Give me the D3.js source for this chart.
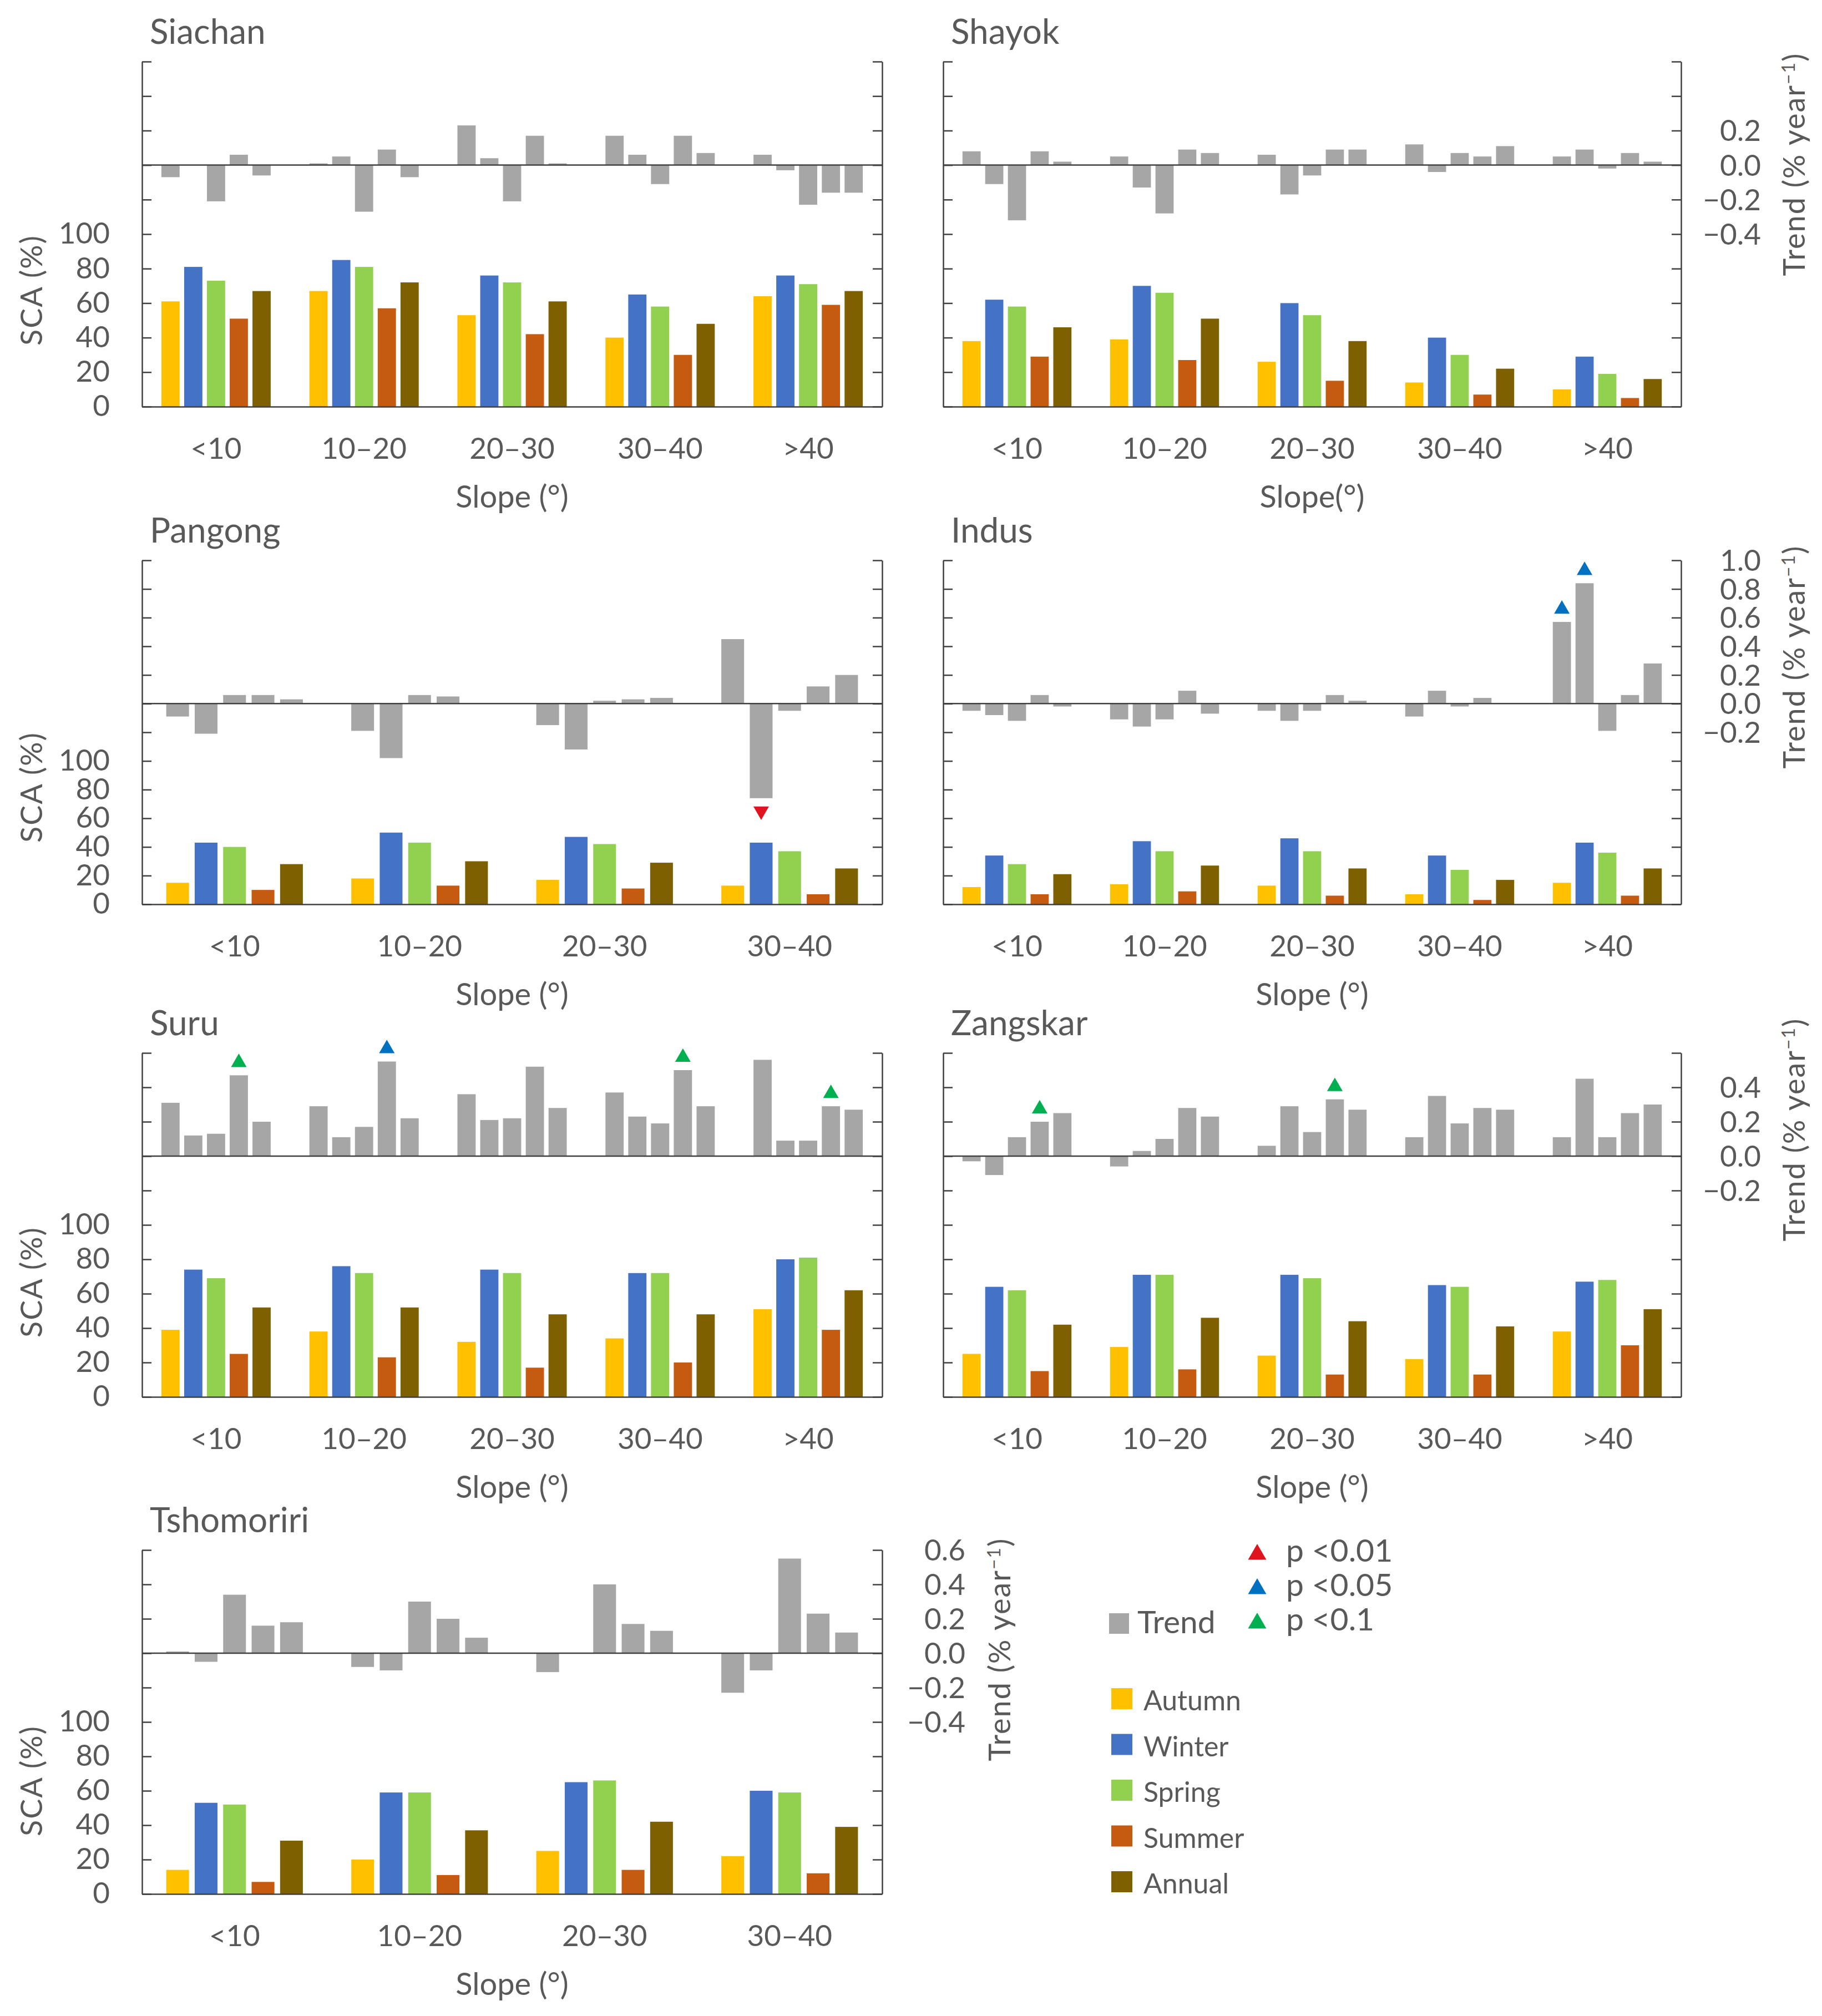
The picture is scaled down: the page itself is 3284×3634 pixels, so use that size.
<!DOCTYPE html>
<html>
<head>
<meta charset="utf-8">
<script src="https://cdn.jsdelivr.net/npm/d3@7"></script>
<style>
  body { margin: 0; background: #fff; }
  svg text { font-family: Lato, 'Open Sans', sans-serif; fill: #595959; }
</style>
</head>
<body>
<div id="chart"></div>
<script>
const seasons = ['Autumn', 'Winter', 'Spring', 'Summer', 'Annual'];
const slopes5 = ['<10', '10–20', '20–30', '30–40', '>40'];
const slopes4 = ['<10', '10–20', '20–30', '30–40'];

// SCA (%) per slope class, in season order
const siachanSca = [[61, 81, 73, 51, 67], [67, 85, 81, 57, 72], [53, 76, 72, 42, 61], [40, 65, 58, 30, 48], [64, 76, 71, 59, 67]];
const shayokSca = [[38, 62, 58, 29, 46], [39, 70, 66, 27, 51], [26, 60, 53, 15, 38], [14, 40, 30, 7, 22], [10, 29, 19, 5, 16]];
const pangongSca = [[15, 43, 40, 10, 28], [18, 50, 43, 13, 30], [17, 47, 42, 11, 29], [13, 43, 37, 7, 25]];
const indusSca = [[12, 34, 28, 7, 21], [14, 44, 37, 9, 27], [13, 46, 37, 6, 25], [7, 34, 24, 3, 17], [15, 43, 36, 6, 25]];
const suruSca = [[39, 74, 69, 25, 52], [38, 76, 72, 23, 52], [32, 74, 72, 17, 48], [34, 72, 72, 20, 48], [51, 80, 81, 39, 62]];
const zangskarSca = [[25, 64, 62, 15, 42], [29, 71, 71, 16, 46], [24, 71, 69, 13, 44], [22, 65, 64, 13, 41], [38, 67, 68, 30, 51]];
const tshomoririSca = [[14, 53, 52, 7, 31], [20, 59, 59, 11, 37], [25, 65, 66, 14, 42], [22, 60, 59, 12, 39]];

// trend (% year-1) per slope class, in season order
const siachanTrend = [[-0.07, 0, -0.21, 0.06, -0.06], [0.01, 0.05, -0.27, 0.09, -0.07], [0.23, 0.04, -0.21, 0.17, 0.01], [0.17, 0.06, -0.11, 0.17, 0.07], [0.06, -0.03, -0.23, -0.16, -0.16]];
const shayokTrend = [[0.08, -0.11, -0.32, 0.08, 0.02], [0.05, -0.13, -0.28, 0.09, 0.07], [0.06, -0.17, -0.06, 0.09, 0.09], [0.12, -0.04, 0.07, 0.05, 0.11], [0.05, 0.09, -0.02, 0.07, 0.02]];
const pangongTrend = [[-0.09, -0.21, 0.06, 0.06, 0.03], [-0.19, -0.38, 0.06, 0.05, 0], [-0.15, -0.32, 0.02, 0.03, 0.04], [0.45, -0.66, -0.05, 0.12, 0.2]];
const indusTrend = [[-0.05, -0.08, -0.12, 0.06, -0.02], [-0.11, -0.16, -0.11, 0.09, -0.07], [-0.05, -0.12, -0.05, 0.06, 0.02], [-0.09, 0.09, -0.02, 0.04, 0], [0.57, 0.84, -0.19, 0.06, 0.28]];
const suruTrend = [[0.31, 0.12, 0.13, 0.47, 0.2], [0.29, 0.11, 0.17, 0.55, 0.22], [0.36, 0.21, 0.22, 0.52, 0.28], [0.37, 0.23, 0.19, 0.5, 0.29], [0.56, 0.09, 0.09, 0.29, 0.27]];
const zangskarTrend = [[-0.03, -0.11, 0.11, 0.2, 0.25], [-0.06, 0.03, 0.1, 0.28, 0.23], [0.06, 0.29, 0.14, 0.33, 0.27], [0.11, 0.35, 0.19, 0.28, 0.27], [0.11, 0.45, 0.11, 0.25, 0.3]];
const tshomoririTrend = [[0.01, -0.05, 0.34, 0.16, 0.18], [-0.08, -0.1, 0.3, 0.2, 0.09], [-0.11, 0, 0.4, 0.17, 0.13], [-0.23, -0.1, 0.55, 0.23, 0.12]];

// significant trends
const pangongSig = [{ slope: '30–40', season: 'Winter', p: 0.01 }];
const indusSig = [{ slope: '>40', season: 'Autumn', p: 0.05 }, { slope: '>40', season: 'Winter', p: 0.05 }];
const suruSig = [{ slope: '<10', season: 'Summer', p: 0.1 }, { slope: '10–20', season: 'Summer', p: 0.05 },
  { slope: '30–40', season: 'Summer', p: 0.1 }, { slope: '>40', season: 'Summer', p: 0.1 }];
const zangskarSig = [{ slope: '<10', season: 'Summer', p: 0.1 }, { slope: '20–30', season: 'Summer', p: 0.1 }];

const sigLevels = [0.01, 0.05, 0.1];
const sigNames = ['p <0.01', 'p <0.05', 'p <0.1'];

const seasonColor = d3.scaleOrdinal().domain(seasons).range(['#FFC000', '#4472C4', '#92D050', '#C55A11', '#7F6000']);
const sigColor = d3.scaleOrdinal().domain(sigLevels).range(['#E0141E', '#0070C0', '#00B050']);
const trendColor = '#A6A6A6';
const axisColor = '#404040';

const W = 3284, H = 3634;
const cols = [[256, 1590], [1700, 3030]];
const rows = [[111, 733], [1010, 1630], [1898, 2518], [2794, 3414]];

const panels = [
  { name: 'Siachan', cats: slopes5, sca: siachanSca, trend: siachanTrend, sig: [], yMax: 200, col: 0, row: 0, xTitle: 'Slope (°)', scaY: 523 },
  { name: 'Shayok', cats: slopes5, sca: shayokSca, trend: shayokTrend, sig: [], yMax: 200, col: 1, row: 0, xTitle: 'Slope(°)',
    right: [0.2, 0, -0.2, -0.4], rightX: 3174, trendPos: [3234, 296] },
  { name: 'Pangong', cats: slopes4, sca: pangongSca, trend: pangongTrend, sig: pangongSig, yMax: 240, col: 0, row: 1, xTitle: 'Slope (°)', scaY: 1419 },
  { name: 'Indus', cats: slopes5, sca: indusSca, trend: indusTrend, sig: indusSig, yMax: 240, col: 1, row: 1, xTitle: 'Slope (°)',
    right: [1, 0.8, 0.6, 0.4, 0.2, 0, -0.2], rightX: 3174, trendPos: [3234, 1184] },
  { name: 'Suru', cats: slopes5, sca: suruSca, trend: suruTrend, sig: suruSig, yMax: 200, col: 0, row: 2, xTitle: 'Slope (°)', scaY: 2311 },
  { name: 'Zangskar', cats: slopes5, sca: zangskarSca, trend: zangskarTrend, sig: zangskarSig, yMax: 200, col: 1, row: 2, xTitle: 'Slope (°)',
    right: [0.4, 0.2, 0, -0.2], rightX: 3174, trendPos: [3234, 2036] },
  { name: 'Tshomoriri', cats: slopes4, sca: tshomoririSca, trend: tshomoririTrend, sig: [], yMax: 200, col: 0, row: 3, xTitle: 'Slope (°)', scaY: 3210,
    right: [0.6, 0.4, 0.2, 0, -0.2, -0.4], rightX: 1740, trendPos: [1802, 2973] }
];

const svg = d3.select('#chart').append('svg')
  .attr('width', W)
  .attr('height', H)
  .style('background', '#fff');

const tri = d3.symbol().type(d3.symbolTriangle);

function drawPanel(p) {
  const [x0, x1] = cols[p.col];
  const [yt, yb] = rows[p.row];
  const g = svg.append('g');

  const x = d3.scaleBand().domain(p.cats).range([x0, x1]);
  const xs = d3.scaleBand().domain(seasons).range([0, x.bandwidth()])
    .paddingInner(0.2).paddingOuter(0.85);
  const y = d3.scaleLinear().domain([0, p.yMax]).range([yb, yt]);
  const yT = d3.scaleLinear().domain([-1.4, p.yMax / 100 - 1.4]).range([yb, yt]);

  const scaCells = [], trendCells = [];
  p.cats.forEach((c, i) => seasons.forEach((s, j) => {
    scaCells.push({ c, s, v: p.sca[i][j] });
    trendCells.push({ c, s, v: p.trend[i][j] });
  }));

  // trend bars (secondary axis)
  g.selectAll('.trend').data(trendCells).join('rect')
    .attr('x', d => x(d.c) + xs(d.s))
    .attr('width', xs.bandwidth())
    .attr('y', d => Math.min(yT(0), yT(d.v)))
    .attr('height', d => Math.abs(yT(d.v) - yT(0)))
    .attr('fill', trendColor);

  // SCA bars
  g.selectAll('.sca').data(scaCells).join('rect')
    .attr('x', d => x(d.c) + xs(d.s))
    .attr('width', xs.bandwidth())
    .attr('y', d => y(d.v))
    .attr('height', d => yb - y(d.v))
    .attr('fill', d => seasonColor(d.s));

  // significance markers
  const trendOf = d => p.trend[p.cats.indexOf(d.slope)][seasons.indexOf(d.season)];
  g.selectAll('.sig').data(p.sig).join('path')
    .attr('d', tri.size(340))
    .attr('fill', d => sigColor(d.p))
    .attr('transform', d => {
      const cx = x(d.slope) + xs(d.season) + xs.bandwidth() / 2;
      const v = trendOf(d);
      return v >= 0
        ? `translate(${cx},${yT(v) - 15 - 8})`
        : `translate(${cx},${yT(v) + 15 + 8}) rotate(180)`;
    });

  const ticks = d3.range(0, p.yMax + 1, 20);
  const showLeft = p.col === 0;

  // left axis (labels only in the left column)
  g.append('g')
    .attr('transform', `translate(${x0},0)`)
    .attr('color', axisColor)
    .call(d3.axisLeft(y).tickValues(ticks).tickSizeInner(-17).tickSizeOuter(0).tickPadding(58)
      .tickFormat(d => showLeft && d <= 100 ? d : ''))
    .attr('font-size', 53)
    .attr('font-family', null)
    .call(a => a.selectAll('text').filter(function () { return this.textContent === ''; }).remove())
    .call(a => a.selectAll('line, path').attr('stroke-width', 2.5));

  // right axis
  g.append('g')
    .attr('transform', `translate(${x1},0)`)
    .attr('color', axisColor)
    .call(d3.axisRight(yT).tickValues(ticks.map(v => (v - 140) / 100)).tickSizeInner(-17).tickSizeOuter(0).tickFormat(''))
    .call(a => a.selectAll('text').remove())
    .call(a => a.selectAll('line, path').attr('stroke-width', 2.5));

  if (p.right) {
    g.selectAll('.rlab').data(p.right).join('text')
      .attr('x', p.rightX)
      .attr('y', d => yT(d))
      .attr('dy', '0.36em')
      .attr('text-anchor', 'end')
      .attr('font-size', 53)
      .text(d3.format('.1f'));

    const t = g.append('text')
      .attr('transform', `translate(${p.trendPos[0]},${p.trendPos[1]}) rotate(-90)`)
      .attr('text-anchor', 'middle')
      .attr('dy', '0.35em')
      .attr('font-size', 54)
      .attr('letter-spacing', 2);
    t.append('tspan').text('Trend (% year');
    t.append('tspan').attr('font-size', 32).attr('dy', -18).text('−1');
    t.append('tspan').attr('dy', 18).text(')');
  }

  // bottom axis
  g.append('g')
    .attr('transform', `translate(0,${yb})`)
    .attr('color', axisColor)
    .call(d3.axisBottom(x).tickSize(0).tickPadding(56))
    .attr('font-size', 53)
    .attr('font-family', null)
    .call(a => a.select('.domain').attr('stroke-width', 2.5));

  // zero line of the trend axis
  g.append('line')
    .attr('x1', x0).attr('x2', x1)
    .attr('y1', yT(0)).attr('y2', yT(0))
    .attr('stroke', axisColor)
    .attr('stroke-width', 2.5);

  g.append('text')
    .attr('x', x0 + 14)
    .attr('y', yt - 32)
    .attr('font-size', 62)
    .text(p.name);

  g.append('text')
    .attr('x', (x0 + x1) / 2)
    .attr('y', yb + 182)
    .attr('text-anchor', 'middle')
    .attr('font-size', 56)
    .text(p.xTitle);

  if (p.scaY) {
    g.append('text')
      .attr('transform', `translate(57,${p.scaY}) rotate(-90)`)
      .attr('text-anchor', 'middle')
      .attr('dy', '0.35em')
      .attr('font-size', 54)
      .attr('letter-spacing', 2)
      .text('SCA (%)');
  }
}

panels.forEach(drawPanel);

// legend
const lg = svg.append('g');

lg.selectAll('.sigsym').data(sigLevels).join('path')
  .attr('d', tri.size(470))
  .attr('fill', d => sigColor(d))
  .attr('transform', (d, i) => `translate(2266,${2802 + i * 62})`);
lg.selectAll('.sigtxt').data(sigNames).join('text')
  .attr('x', 2318)
  .attr('y', (d, i) => 2815 + i * 62)
  .attr('font-size', 57)
  .text(d => d);

lg.append('rect')
  .attr('x', 1999).attr('y', 2908)
  .attr('width', 36).attr('height', 37)
  .attr('fill', trendColor);
lg.append('text')
  .attr('x', 2050).attr('y', 2944)
  .attr('font-size', 57)
  .text('Trend');

lg.selectAll('.sw').data(seasons).join('rect')
  .attr('x', 2003)
  .attr('y', (d, i) => 3043 + i * 82.5)
  .attr('width', 38).attr('height', 38)
  .attr('fill', d => seasonColor(d));
lg.selectAll('.sl').data(seasons).join('text')
  .attr('x', 2061)
  .attr('y', (d, i) => 3083 + i * 82.5)
  .attr('font-size', 50)
  .text(d => d);
</script>
</body>
</html>
